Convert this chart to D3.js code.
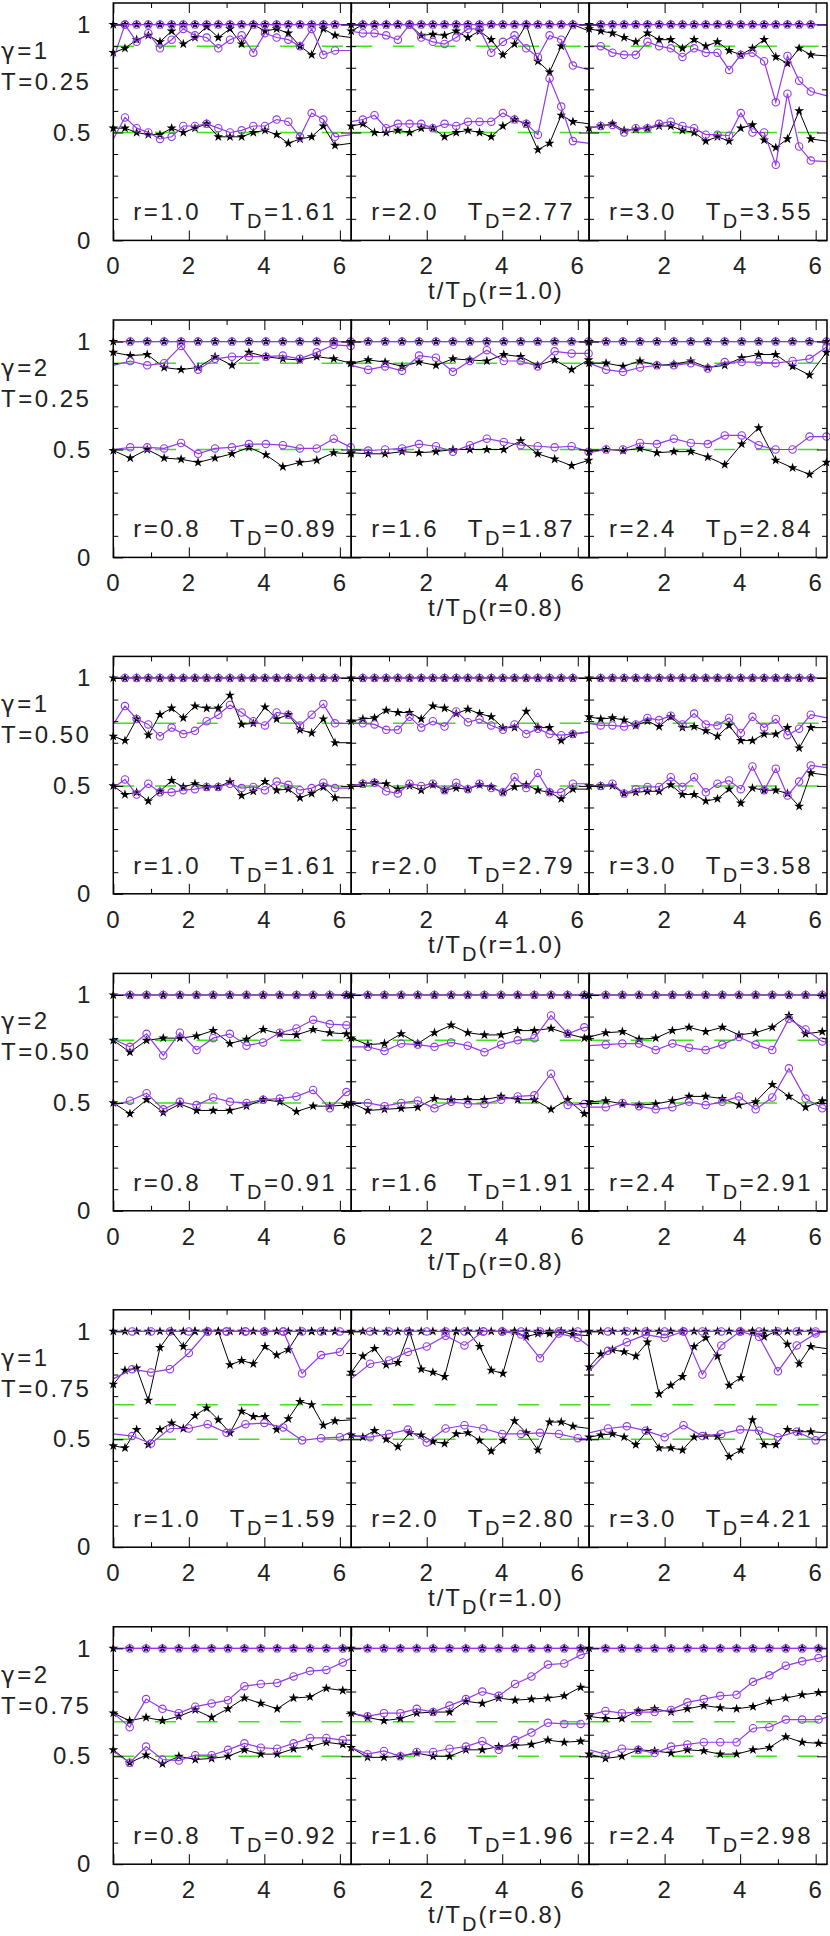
<!DOCTYPE html>
<html>
<head>
<meta charset="utf-8">
<script src="https://cdn.jsdelivr.net/npm/d3@7"></script>
<style>
body { margin: 0; background: #fff; }
text { font-family: "Liberation Sans", Arial, sans-serif; fill: #222; }
</style>
</head>
<body>
<svg id="chart" width="830" height="1936"></svg>
<script>
// ---- labels ----
var gammaLabels = ['1', '2', '1', '2', '1', '2'];
var tempLabels = ['0.25', '0.25', '0.50', '0.50', '0.75', '0.75'];
var rLabels = [['1.0','2.0','3.0'], ['0.8','1.6','2.4'], ['1.0','2.0','3.0'], ['0.8','1.6','2.4'], ['1.0','2.0','3.0'], ['0.8','1.6','2.4']];
var tdLabels = [['1.61','2.77','3.55'], ['0.89','1.87','2.84'], ['1.61','2.79','3.58'], ['0.91','1.91','2.91'], ['1.59','2.80','4.21'], ['0.92','1.96','2.98']];
var axisRef = ['1.0', '0.8', '1.0', '0.8', '1.0', '0.8'];

// ---- ticks ----
var xMajor = [0, 2, 4, 6], xMinor = [1, 3, 5];
var yMajor = [0, 0.5, 1], yMinor = [0.1, 0.2, 0.3, 0.4, 0.6, 0.7, 0.8, 0.9];

// ---- sampling step (t/T_D units) per row ----
var dtBlack = [0.309, 0.449, 0.309, 0.441, 0.309, 0.434];
var dtPurple = [0.309, 0.449, 0.309, 0.441, 0.5, 0.434];

// ---- reference (green dashed) levels ----
var greenHi = [0.9, 0.9, 0.79, 0.79, 0.66, 0.66];
var greenLo = [0.5, 0.5, 0.5, 0.5, 0.5, 0.5];

// top series sits at 1 everywhere
var unity = [1,1,1,1,1,1,1,1,1,1,1,1,1,1,1,1,1,1,1,1,1];

// ---- series values: last value of every list is the level at the right edge ----
var row1BlackHi = [
  [0.87,0.89,0.93,0.95,0.92,0.97,0.91,0.94,0.99,0.94,0.98,0.91,1.0,0.97,0.98,0.96,0.90,0.86,0.98,0.95,0.94],
  [0.97,1.0,1.0,1.0,1.0,1.0,0.95,0.955,0.95,0.97,0.94,0.97,0.93,0.86,0.91,1.0,0.83,0.78,0.90,1.0,0.97],
  [0.98,0.97,0.96,0.94,0.92,0.96,0.93,0.93,0.89,0.93,0.90,0.92,0.88,0.86,0.89,0.93,0.85,0.82,0.89,0.86,0.855]];
var row1PurpleHi = [
  [0.84,1.0,0.92,0.96,0.89,0.93,0.98,0.95,0.94,0.89,0.93,0.95,0.87,0.96,0.94,0.93,0.90,0.98,0.86,0.88,0.88],
  [0.97,0.96,0.96,0.95,0.93,1.0,0.94,0.92,0.91,0.94,0.98,0.98,0.87,0.92,0.95,0.89,0.85,0.95,0.93,0.81,0.79],
  [0.90,0.90,0.87,0.86,0.86,0.92,0.90,0.89,0.85,0.89,0.87,0.87,0.79,0.86,0.87,0.83,0.64,0.855,0.74,0.69,0.67]];
var row1BlackLo = [
  [0.52,0.52,0.50,0.49,0.49,0.52,0.50,0.52,0.54,0.48,0.48,0.48,0.50,0.51,0.49,0.45,0.47,0.48,0.53,0.44,0.45],
  [0.53,0.54,0.50,0.50,0.51,0.50,0.52,0.52,0.48,0.50,0.51,0.50,0.48,0.53,0.56,0.54,0.42,0.45,0.58,0.55,0.54],
  [0.52,0.53,0.54,0.51,0.515,0.52,0.53,0.53,0.51,0.50,0.46,0.48,0.46,0.52,0.535,0.465,0.43,0.47,0.60,0.47,0.46]];
var row1PurpleLo = [
  [0.47,0.57,0.52,0.50,0.47,0.48,0.53,0.53,0.54,0.52,0.50,0.51,0.53,0.53,0.56,0.55,0.48,0.59,0.56,0.48,0.49],
  [0.55,0.56,0.58,0.52,0.54,0.54,0.54,0.52,0.54,0.53,0.55,0.55,0.55,0.59,0.56,0.54,0.49,0.75,0.62,0.46,0.45],
  [0.52,0.53,0.535,0.50,0.52,0.52,0.54,0.55,0.53,0.52,0.49,0.49,0.485,0.59,0.50,0.50,0.35,0.68,0.435,0.37,0.365]];

var row2BlackHi = [
  [0.95,0.935,0.94,0.88,0.87,0.88,0.93,0.89,0.95,0.93,0.92,0.915,0.93,0.92,0.90,0.90],
  [0.90,0.915,0.905,0.885,0.905,0.89,0.92,0.915,0.91,0.94,0.93,0.89,0.915,0.87,0.915,0.915],
  [0.90,0.90,0.885,0.91,0.89,0.895,0.91,0.88,0.89,0.925,0.94,0.94,0.885,0.845,0.95,0.95]];
var row2PurpleHi = [
  [0.89,0.91,0.89,0.90,0.98,0.87,0.92,0.93,0.93,0.93,0.935,0.92,0.95,0.985,0.98,0.98],
  [0.89,0.87,0.885,0.865,0.935,0.925,0.86,0.91,0.96,0.91,0.91,0.885,0.955,0.945,0.945,0.945],
  [0.90,0.87,0.86,0.88,0.89,0.89,0.90,0.875,0.905,0.905,0.905,0.90,0.91,0.92,0.975,0.975]];
var row2BlackLo = [
  [0.495,0.46,0.50,0.46,0.455,0.44,0.46,0.48,0.51,0.475,0.42,0.44,0.45,0.485,0.48,0.48],
  [0.485,0.48,0.48,0.49,0.485,0.49,0.50,0.50,0.50,0.50,0.54,0.48,0.455,0.425,0.45,0.45],
  [0.49,0.50,0.495,0.505,0.485,0.49,0.49,0.465,0.43,0.525,0.60,0.45,0.415,0.385,0.44,0.44]];
var row2PurpleLo = [
  [0.50,0.51,0.51,0.505,0.53,0.48,0.505,0.51,0.525,0.525,0.52,0.505,0.505,0.55,0.51,0.51],
  [0.50,0.495,0.50,0.505,0.525,0.515,0.49,0.52,0.55,0.535,0.52,0.515,0.51,0.515,0.49,0.49],
  [0.485,0.50,0.50,0.53,0.525,0.55,0.53,0.525,0.565,0.565,0.52,0.50,0.50,0.56,0.56,0.56]];

var row3BlackHi = [
  [0.73,0.71,0.81,0.735,0.83,0.86,0.815,0.87,0.86,0.86,0.92,0.785,0.79,0.865,0.81,0.83,0.76,0.745,0.81,0.70,0.70],
  [0.80,0.81,0.815,0.85,0.84,0.84,0.81,0.87,0.86,0.835,0.855,0.835,0.82,0.77,0.77,0.845,0.77,0.77,0.71,0.74,0.75],
  [0.82,0.81,0.815,0.805,0.78,0.80,0.775,0.82,0.77,0.775,0.755,0.73,0.78,0.71,0.71,0.74,0.74,0.77,0.675,0.77,0.77]];
var row3PurpleHi = [
  [0.785,0.87,0.81,0.785,0.73,0.77,0.74,0.755,0.80,0.83,0.875,0.84,0.80,0.78,0.84,0.83,0.78,0.83,0.88,0.79,0.79],
  [0.79,0.79,0.785,0.76,0.76,0.82,0.77,0.80,0.775,0.845,0.795,0.81,0.78,0.76,0.785,0.74,0.765,0.74,0.735,0.74,0.75],
  [0.79,0.78,0.78,0.775,0.785,0.815,0.805,0.825,0.785,0.835,0.785,0.78,0.815,0.745,0.82,0.77,0.81,0.735,0.765,0.83,0.815]];
var row3BlackLo = [
  [0.50,0.46,0.47,0.43,0.475,0.525,0.495,0.51,0.495,0.495,0.52,0.455,0.475,0.52,0.48,0.485,0.445,0.465,0.495,0.445,0.445],
  [0.50,0.51,0.515,0.51,0.485,0.50,0.48,0.505,0.48,0.49,0.485,0.505,0.495,0.47,0.495,0.505,0.48,0.47,0.44,0.485,0.485],
  [0.50,0.50,0.50,0.465,0.47,0.475,0.475,0.505,0.46,0.46,0.43,0.44,0.485,0.42,0.49,0.48,0.48,0.465,0.405,0.56,0.55]];
var row3PurpleLo = [
  [0.49,0.53,0.46,0.51,0.47,0.47,0.48,0.485,0.495,0.495,0.51,0.49,0.495,0.48,0.52,0.505,0.48,0.49,0.515,0.49,0.49],
  [0.50,0.51,0.515,0.475,0.465,0.51,0.50,0.51,0.48,0.515,0.485,0.51,0.49,0.47,0.54,0.49,0.56,0.47,0.47,0.51,0.51],
  [0.50,0.50,0.51,0.465,0.485,0.495,0.495,0.54,0.495,0.54,0.47,0.51,0.525,0.485,0.59,0.48,0.58,0.455,0.52,0.595,0.585]];

var row4BlackHi = [
  [0.79,0.735,0.79,0.80,0.80,0.81,0.835,0.775,0.795,0.84,0.82,0.815,0.84,0.825,0.82,0.82],
  [0.80,0.77,0.775,0.82,0.775,0.825,0.86,0.825,0.815,0.815,0.835,0.835,0.845,0.82,0.80,0.80],
  [0.805,0.825,0.83,0.795,0.80,0.835,0.85,0.83,0.85,0.815,0.825,0.85,0.905,0.82,0.83,0.835]];
var row4PurpleHi = [
  [0.795,0.76,0.82,0.72,0.825,0.745,0.80,0.82,0.765,0.78,0.825,0.845,0.885,0.865,0.86,0.86],
  [0.76,0.76,0.74,0.775,0.77,0.76,0.78,0.765,0.735,0.77,0.79,0.80,0.905,0.82,0.85,0.85],
  [0.765,0.77,0.775,0.775,0.745,0.775,0.755,0.745,0.77,0.805,0.77,0.745,0.89,0.84,0.785,0.78]];
var row4BlackLo = [
  [0.50,0.45,0.515,0.455,0.495,0.465,0.465,0.465,0.485,0.515,0.505,0.46,0.485,0.485,0.49,0.49],
  [0.50,0.465,0.47,0.475,0.48,0.52,0.515,0.515,0.515,0.53,0.515,0.515,0.47,0.515,0.45,0.45],
  [0.505,0.51,0.495,0.49,0.495,0.51,0.53,0.53,0.52,0.49,0.505,0.585,0.53,0.48,0.51,0.51]];
var row4PurpleLo = [
  [0.49,0.51,0.545,0.47,0.505,0.49,0.525,0.505,0.50,0.515,0.52,0.53,0.56,0.475,0.55,0.56],
  [0.50,0.50,0.485,0.50,0.51,0.475,0.505,0.495,0.495,0.515,0.53,0.535,0.635,0.49,0.495,0.495],
  [0.48,0.48,0.50,0.485,0.47,0.48,0.505,0.49,0.505,0.53,0.47,0.525,0.66,0.52,0.475,0.47]];

var row5BlackHi = [
  [0.755,0.82,0.83,0.68,0.925,1.0,0.93,1.0,1.0,1.0,0.845,0.865,0.85,0.93,0.89,0.915,1.0,1.0,1.0,1.0,0.995],
  [0.81,0.885,0.92,0.845,0.855,1.0,0.825,0.81,0.79,1.0,1.0,0.93,0.82,0.805,1.0,0.975,0.99,0.99,1.0,0.985,0.98],
  [0.835,0.895,0.915,0.905,0.885,0.95,0.71,0.75,0.79,0.93,0.97,0.885,0.75,0.785,1.0,0.975,1.0,0.94,0.85,0.93,0.92]];
var row5PurpleHi = [
  [0.78,0.825,0.81,0.825,0.90,1.0,1.0,1.0,1.0,1.0,0.805,0.89,0.905,0.97],
  [0.78,0.85,0.865,0.905,0.93,0.98,0.935,1.0,1.0,0.985,0.875,0.99,0.97,0.93],
  [0.815,0.91,0.95,0.985,0.97,1.0,0.80,0.935,1.0,0.975,0.815,0.935,0.99,1.0]];
var row5BlackLo = [
  [0.47,0.46,0.545,0.475,0.545,0.575,0.55,0.61,0.645,0.59,0.53,0.63,0.605,0.605,0.545,0.595,0.675,0.66,0.565,0.585,0.59],
  [0.52,0.51,0.54,0.50,0.465,0.53,0.52,0.49,0.48,0.525,0.53,0.495,0.445,0.495,0.585,0.53,0.45,0.58,0.58,0.56,0.55],
  [0.51,0.52,0.525,0.51,0.475,0.54,0.46,0.46,0.45,0.51,0.515,0.515,0.42,0.45,0.59,0.475,0.475,0.545,0.535,0.535,0.53]];
var row5PurpleLo = [
  [0.525,0.515,0.48,0.55,0.55,0.57,0.53,0.57,0.575,0.555,0.495,0.505,0.51,0.535],
  [0.515,0.51,0.525,0.545,0.485,0.55,0.565,0.55,0.525,0.525,0.53,0.525,0.505,0.50],
  [0.53,0.55,0.56,0.54,0.51,0.565,0.515,0.525,0.545,0.54,0.51,0.535,0.495,0.53]];

var row6BlackHi = [
  [0.70,0.665,0.68,0.665,0.685,0.715,0.68,0.72,0.77,0.745,0.72,0.77,0.775,0.815,0.805,0.81],
  [0.70,0.68,0.665,0.675,0.70,0.705,0.705,0.755,0.745,0.77,0.76,0.765,0.77,0.78,0.82,0.82],
  [0.685,0.675,0.675,0.71,0.72,0.705,0.72,0.735,0.725,0.72,0.73,0.755,0.77,0.785,0.795,0.80]];
var row6PurpleHi = [
  [0.70,0.635,0.765,0.72,0.70,0.73,0.745,0.76,0.825,0.835,0.84,0.87,0.895,0.90,0.935,0.955],
  [0.70,0.685,0.70,0.70,0.72,0.705,0.735,0.765,0.80,0.78,0.835,0.87,0.925,0.93,0.97,0.98],
  [0.69,0.71,0.70,0.705,0.705,0.715,0.75,0.765,0.78,0.785,0.845,0.875,0.92,0.94,0.955,0.965]];
var row6BlackLo = [
  [0.53,0.47,0.505,0.465,0.50,0.485,0.49,0.50,0.53,0.51,0.51,0.535,0.545,0.565,0.555,0.555],
  [0.54,0.495,0.495,0.50,0.515,0.50,0.50,0.53,0.53,0.545,0.55,0.555,0.575,0.565,0.57,0.57],
  [0.51,0.49,0.50,0.53,0.525,0.515,0.53,0.525,0.51,0.51,0.53,0.54,0.59,0.565,0.56,0.56]];
var row6PurpleLo = [
  [0.525,0.47,0.545,0.485,0.48,0.505,0.505,0.53,0.56,0.54,0.535,0.56,0.585,0.585,0.575,0.575],
  [0.54,0.51,0.525,0.50,0.52,0.52,0.535,0.545,0.57,0.53,0.575,0.61,0.655,0.65,0.65,0.65],
  [0.53,0.51,0.535,0.53,0.515,0.545,0.555,0.565,0.565,0.565,0.63,0.635,0.67,0.67,0.67,0.68]];

var blackHi = [row1BlackHi, row2BlackHi, row3BlackHi, row4BlackHi, row5BlackHi, row6BlackHi];
var blackLo = [row1BlackLo, row2BlackLo, row3BlackLo, row4BlackLo, row5BlackLo, row6BlackLo];
var purpleHi = [row1PurpleHi, row2PurpleHi, row3PurpleHi, row4PurpleHi, row5PurpleHi, row6PurpleHi];
var purpleLo = [row1PurpleLo, row2PurpleLo, row3PurpleLo, row4PurpleLo, row5PurpleLo, row6PurpleLo];

// ---- drawing ----
(function() {
	var BLACK = '#000', PURPLE = '#9438e8', GREEN = '#3fe01c';
	var FONT = '"Liberation Sans", Arial, sans-serif';
	var svg = d3.select('#chart');
	var left0 = 113.3, panelW = 237.9, panelH = 237.4;
	var xMax = 6.3;

	var x = d3.scaleLinear().domain([0, xMax]).range([0, panelW]);
	var y = d3.scaleLinear().domain([0, 1.1]).range([panelH, 0]);
	var fmt = d3.format('~g');

	var line = d3.line().x(function(d){ return x(d.x); }).y(function(d){ return y(d.y); });
	var star = d3.symbol().type(d3.symbolStar).size(30);

	function toPoints(vals, dt) {
		var n = vals.length - 1;
		return vals.map(function(v, k){
			return { x: k < n ? k * dt : xMax, y: v, mark: k < n, k: k };
		});
	}

	function drawSeries(g, vals, dt, color) {
		var pts = toPoints(vals, dt);
		g.append('path')
			.attr('d', line(pts))
			.attr('fill', 'none')
			.attr('stroke', color)
			.attr('stroke-width', color == BLACK ? 1 : 1.2);
		var marks = pts.filter(function(d){ return d.mark && (color == BLACK || d.k > 0); });
		if (color == BLACK) {
			g.selectAll(null).data(marks).enter().append('path')
				.attr('d', star)
				.attr('transform', function(d){ return 'translate(' + x(d.x) + ',' + y(d.y) + ')'; })
				.attr('fill', BLACK);
		} else {
			g.selectAll(null).data(marks).enter().append('circle')
				.attr('cx', function(d){ return x(d.x); })
				.attr('cy', function(d){ return y(d.y); })
				.attr('r', 3.7)
				.attr('fill', 'none')
				.attr('stroke', PURPLE)
				.attr('stroke-width', 1.1);
		}
	}

	function styleAxis(a) {
		a.select('.domain').remove();
		a.selectAll('line').attr('stroke', '#000').attr('stroke-width', 1);
		a.selectAll('text').attr('font-family', FONT)
			.attr('font-size', 24).attr('letter-spacing', 2).attr('fill', '#222');
		return a;
	}

	function subText(sel, before, after, size) {
		sel.append('tspan').text(before);
		sel.append('tspan').attr('dy', 8).attr('font-size', size - 4).text('D');
		sel.append('tspan').attr('dy', -8).text(after);
	}

	for (var i = 0; i < 6; i++) {
		var rowTop = 3 + Math.floor(i / 2) * 653.4 + (i % 2) * 317;
		var row = svg.append('g').attr('transform', 'translate(0,' + rowTop + ')');

		var gl = row.append('text').attr('x', 1).attr('y', 56).attr('font-size', 24).attr('letter-spacing', 2.5);
		gl.append('tspan').attr('font-family', '"DejaVu Sans", sans-serif').attr('font-size', 23).text('\u03b3');
		gl.append('tspan').text('=' + gammaLabels[i]);
		row.append('text').attr('x', 1).attr('y', 87).attr('font-size', 24).attr('letter-spacing', 2.5)
			.text('T=' + tempLabels[i]);

		for (var j = 0; j < 3; j++) {
			var g = row.append('g').attr('transform', 'translate(' + (left0 + j * panelW) + ',0)');

			[greenHi[i], greenLo[i]].forEach(function(lv){
				g.append('line')
					.attr('x1', 0).attr('x2', panelW)
					.attr('y1', y(lv)).attr('y2', y(lv))
					.attr('stroke', GREEN).attr('stroke-width', 1.5)
					.attr('stroke-dasharray', '21,20.7');
			});

			drawSeries(g, unity.slice(0, blackHi[i][j].length), dtBlack[i], BLACK);
			drawSeries(g, blackHi[i][j], dtBlack[i], BLACK);
			drawSeries(g, blackLo[i][j], dtBlack[i], BLACK);
			drawSeries(g, unity.slice(0, purpleHi[i][j].length), dtPurple[i], PURPLE);
			drawSeries(g, purpleHi[i][j], dtPurple[i], PURPLE);
			drawSeries(g, purpleLo[i][j], dtPurple[i], PURPLE);

			// axes: ticks point inward on all four sides
			var xLabels = j == 0 ? xMajor : xMajor.filter(function(v){ return v > 0; });
			styleAxis(g.append('g').attr('transform', 'translate(0,' + panelH + ')')
				.call(d3.axisBottom(x).tickValues(xLabels).tickSize(-10).tickPadding(17).tickFormat(fmt)));
			styleAxis(g.append('g').attr('transform', 'translate(0,' + panelH + ')')
				.call(d3.axisBottom(x).tickValues(xMinor).tickSize(-5).tickFormat('')));
			styleAxis(g.append('g').call(d3.axisTop(x).tickValues(xMajor).tickSize(-10).tickFormat('')));
			styleAxis(g.append('g').call(d3.axisTop(x).tickValues(xMinor).tickSize(-5).tickFormat('')));

			var leftAx = d3.axisLeft(y).tickValues(yMajor).tickSize(-10).tickPadding(21)
				.tickFormat(j == 0 ? fmt : '');
			styleAxis(g.append('g').call(leftAx));
			styleAxis(g.append('g').call(d3.axisLeft(y).tickValues(yMinor).tickSize(-5).tickFormat('')));
			styleAxis(g.append('g').attr('transform', 'translate(' + panelW + ',0)')
				.call(d3.axisRight(y).tickValues(yMajor).tickSize(-10).tickFormat('')));
			styleAxis(g.append('g').attr('transform', 'translate(' + panelW + ',0)')
				.call(d3.axisRight(y).tickValues(yMinor).tickSize(-5).tickFormat('')));

			g.append('rect').attr('width', panelW).attr('height', panelH)
				.attr('fill', 'none').attr('stroke', '#000').attr('stroke-width', 1.5);

			g.append('text').attr('x', 20).attr('y', panelH - 20)
				.attr('font-size', 24).attr('letter-spacing', 2.5)
				.text('r=' + rLabels[i][j]);
			var td = g.append('text').attr('x', panelW - 14).attr('y', panelH - 20)
				.attr('text-anchor', 'end').attr('font-size', 24).attr('letter-spacing', 2.5);
			subText(td, 'T', '=' + tdLabels[i][j], 24);
		}

		var title = row.append('text').attr('x', 428).attr('y', panelH + 59)
			.attr('font-size', 24).attr('letter-spacing', 2);
		subText(title, 't/T', '(r=' + axisRef[i] + ')', 24);
	}
})();
</script>
</body>
</html>
